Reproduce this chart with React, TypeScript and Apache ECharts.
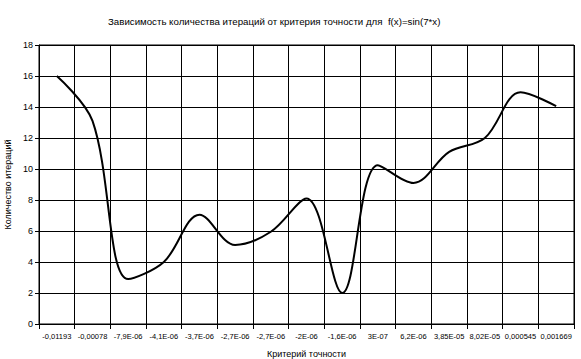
import React, { useEffect, useRef } from "react";
import * as echarts from "echarts";

const categories = [
  "-0,01193", "-0,00078", "-7,9E-06", "-4,1E-06", "-3,7E-06", "-2,7E-06", "-2,7E-06",
  "-2E-06", "-1,6E-06", "3E-07", "6,2E-06", "3,85E-05", "8,02E-05", "0,000545", "0,001669",
];
const iterations = [16, 13.1, 2.9, 4.0, 7.05, 5.1, 5.95, 8.1, 2.0, 10.25, 9.1, 11.1, 12.0, 14.95, 14.05];

const titleText = "Зависимость количества итераций от критерия точности для  f(x)=sin(7*x)";
const xName = "Критерий точности";
const yName = "Количество итераций";

const FONT = "'Liberation Sans', Arial, sans-serif";

export default function App() {
  const ref = useRef<HTMLDivElement>(null);
  useEffect(() => {
    if (!ref.current) return;
    const chart = echarts.init(ref.current, null, { renderer: "svg" });
    chart.setOption({
      animation: false,
      backgroundColor: "#ffffff",
      title: {
        text: titleText,
        left: 103,
        top: 11,
        textStyle: { fontFamily: FONT, fontSize: 9.7, fontWeight: "normal", color: "#000" },
      },
      grid: {
        left: 39, right: 7, top: 45, bottom: 35,
        outerBoundsMode: "none",
        containLabel: false,
        show: true, borderColor: "#000", borderWidth: 1, backgroundColor: "#fff",
      },
      xAxis: {
        type: "category",
        data: categories,
        boundaryGap: true,
        name: xName,
        nameLocation: "middle",
        nameGap: 25,
        nameTextStyle: { fontFamily: FONT, fontSize: 9, color: "#000" },
        axisLine: { show: true, lineStyle: { color: "#000", width: 1 } },
        axisTick: { show: true, length: 5, interval: 0, lineStyle: { color: "#000" } },
        axisLabel: { interval: 0, margin: 8, fontFamily: FONT, fontSize: 7.5, color: "#000", hideOverlap: false },
        splitLine: { show: true, interval: 0, lineStyle: { color: "#000", width: 1 } },
      },
      yAxis: {
        type: "value",
        min: 0,
        max: 18,
        interval: 2,
        name: yName,
        nameLocation: "middle",
        nameGap: 24,
        nameRotate: 90,
        nameTextStyle: { fontFamily: FONT, fontSize: 9, color: "#000" },
        axisLine: { show: true, lineStyle: { color: "#000", width: 1 } },
        axisTick: { show: true, length: 4, lineStyle: { color: "#000" } },
        axisLabel: { margin: 6, fontFamily: FONT, fontSize: 9, color: "#000" },
        splitLine: { show: true, lineStyle: { color: "#000", width: 1 } },
      },
      series: [
        {
          type: "line",
          data: iterations,
          smooth: 0.35,
          showSymbol: false,
          symbol: "none",
          lineStyle: { color: "#000", width: 2 },
        },
      ],
    });
    return () => chart.dispose();
  }, []);
  return (
    <div
      ref={ref}
      style={{ position: "absolute", left: 0, top: 0, width: 581, height: 359 }}
    />
  );
}
